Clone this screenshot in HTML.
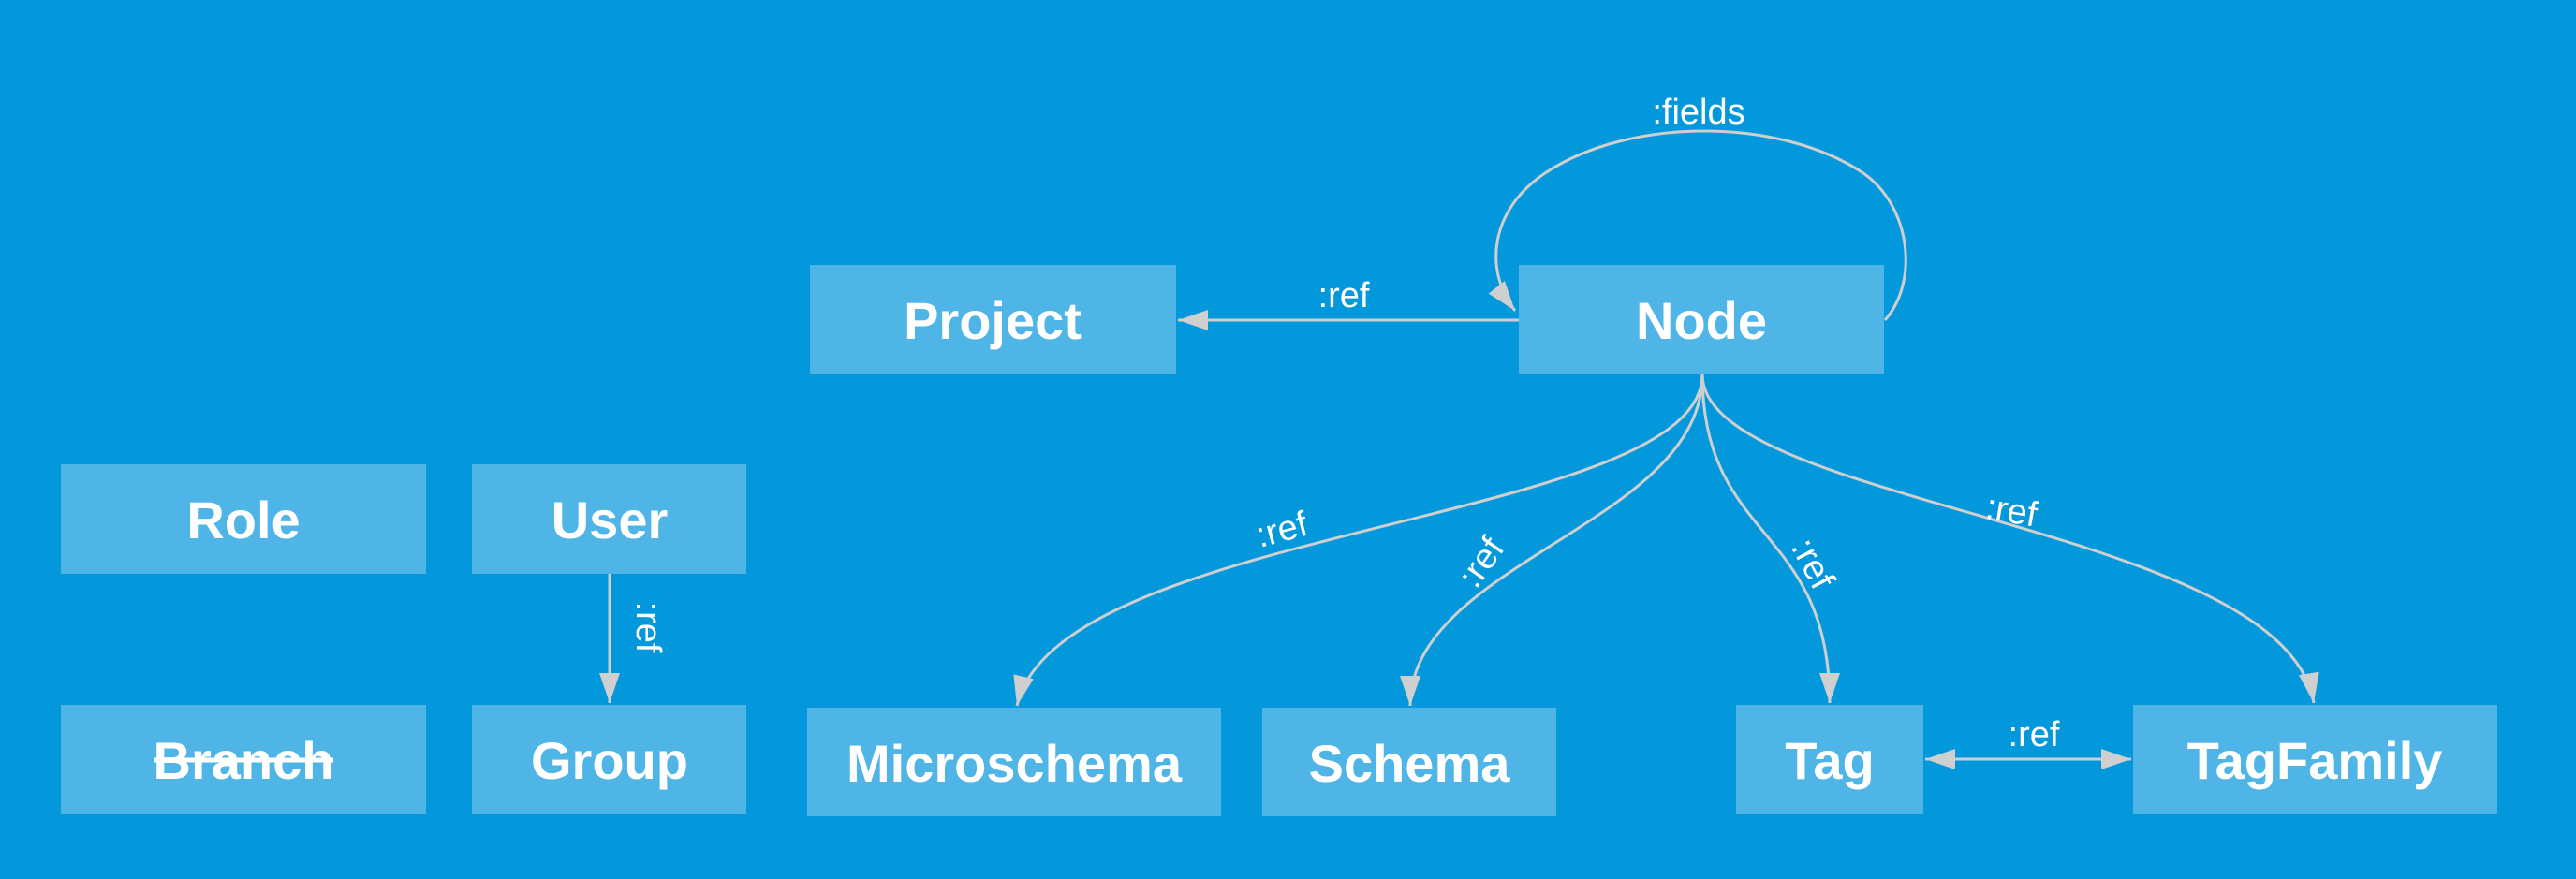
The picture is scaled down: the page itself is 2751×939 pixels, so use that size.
<!DOCTYPE html>
<html><head><meta charset="utf-8"><style>
html,body{margin:0;padding:0;background:#0398dc;}
svg{display:block}
.b{fill:#4fb5e7}
.t{fill:#fff;font-family:"Liberation Sans",sans-serif;font-weight:bold;font-size:56px;text-anchor:middle}
.l{fill:#fff;font-family:"Liberation Sans",sans-serif;font-size:38px;text-anchor:middle}
.e{fill:none;stroke:#cfcfcf;stroke-width:3}
</style></head><body>
<svg width="2751" height="939" viewBox="0 0 2751 939" xmlns="http://www.w3.org/2000/svg">
<defs>
<marker id="ar" viewBox="0 0 10 10" refX="10" refY="5" markerWidth="32" markerHeight="22" markerUnits="userSpaceOnUse" orient="auto-start-reverse" preserveAspectRatio="none"><path d="M0,0 L10,5 L0,10 z" fill="#cfcfcf"/></marker>
</defs>
<rect width="2751" height="939" fill="#0398dc"/>
<g>
<rect class="b" x="865" y="283" width="391" height="117"/><text class="t" x="1060" y="362">Project</text>
<rect class="b" x="1622" y="283" width="390" height="117"/><text class="t" x="1817" y="362">Node</text>
<rect class="b" x="65" y="496" width="390" height="117"/><text class="t" x="260" y="575">Role</text>
<rect class="b" x="504" y="496" width="293" height="117"/><text class="t" x="651" y="575">User</text>
<rect class="b" x="65" y="753" width="390" height="117"/><text class="t" x="260" y="832">Branch</text>
<line x1="164" y1="812" x2="356" y2="812" stroke="#fff" stroke-width="5"/>
<rect class="b" x="504" y="753" width="293" height="117"/><text class="t" x="651" y="832">Group</text>
<rect class="b" x="862" y="756" width="442" height="116"/><text class="t" x="1083" y="835">Microschema</text>
<rect class="b" x="1348" y="756" width="314" height="116"/><text class="t" x="1505" y="835">Schema</text>
<rect class="b" x="1854" y="753" width="200" height="117"/><text class="t" x="1954" y="832">Tag</text>
<rect class="b" x="2278" y="753" width="389" height="117"/><text class="t" x="2472" y="832">TagFamily</text>
</g>
<g>
<path class="e" d="M1622,342 L1258,342" marker-end="url(#ar)"/>
<text class="l" x="1435" y="328">:ref</text>
<path class="e" d="M2013,342 C2050,300 2040,220 1990,185 C1900,125 1740,125 1650,185 C1590,225 1585,290 1618,332" marker-end="url(#ar)"/>
<text class="l" x="1814" y="132">:fields</text>
<path class="e" d="M651,613 L651,751" marker-end="url(#ar)"/>
<text class="l" transform="translate(680,670) rotate(90)">:ref</text>
<path class="e" d="M1818,400 C1818,560 1130,560 1086,754" marker-end="url(#ar)"/>
<text class="l" transform="translate(1372,578) rotate(-15)">:ref</text>
<path class="e" d="M1818,400 C1818,560 1506,600 1506,754" marker-end="url(#ar)"/>
<text class="l" transform="translate(1592,608) rotate(-55)">:ref</text>
<path class="e" d="M1818,400 C1818,580 1954,560 1954,751" marker-end="url(#ar)"/>
<text class="l" transform="translate(1925,608) rotate(62)">:ref</text>
<path class="e" d="M1818,400 C1818,540 2440,560 2471,751" marker-end="url(#ar)"/>
<text class="l" transform="translate(2146,558) rotate(10)">:ref</text>
<path class="e" d="M2056,811 L2276,811" marker-start="url(#ar)" marker-end="url(#ar)"/>
<text class="l" x="2172" y="797">:ref</text>
</g>
</svg>
</body></html>
